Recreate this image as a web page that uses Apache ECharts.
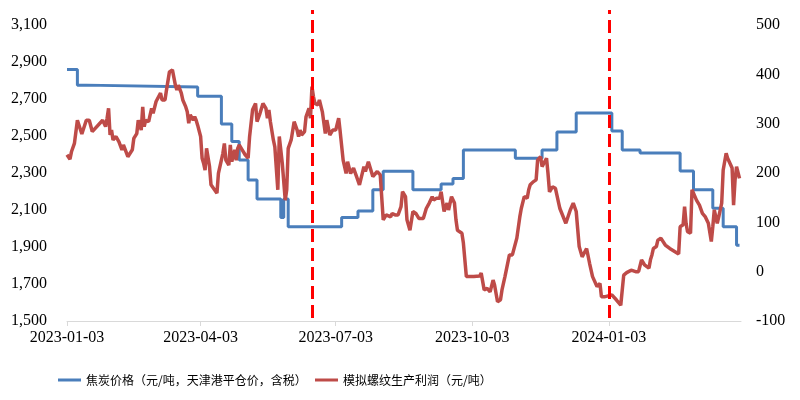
<!DOCTYPE html>
<html><head><meta charset="utf-8">
<script src="https://cdn.jsdelivr.net/npm/echarts@6/dist/echarts.min.js"></script>
<style>html,body{margin:0;padding:0;background:#fff}#c{width:800px;height:400px}</style>
</head><body><div id="c"></div>
<script>
// ---- data ----
const cokeName = '焦炭价格（元/吨，天津港平仓价，含税）';
const profitName = '模拟螺纹生产利润（元/吨）';

// coke price step changes (value holds from date until next date)
const cokeDates = ['2023-01-03','2023-01-10','2023-01-16','2023-04-01','2023-04-17','2023-04-24','2023-04-29','2023-05-05','2023-05-11','2023-05-27','2023-05-29','2023-06-01','2023-07-07','2023-07-18','2023-07-28','2023-08-04','2023-08-24','2023-09-12','2023-09-20','2023-09-27','2023-11-01','2023-11-19','2023-11-29','2023-12-12','2024-01-05','2024-01-12','2024-01-24','2024-02-20','2024-02-29','2024-03-13','2024-03-20','2024-03-29','2024-03-31'];
const cokePrices = [2860,2775,2765,2715,2565,2470,2370,2262,2160,2060,2160,2010,2060,2095,2210,2310,2210,2240,2270,2425,2380,2425,2522,2624,2527,2425,2408,2311,2210,2110,2010,1910,1910];

const profitDates = ['2023-01-03','2023-01-05','2023-01-06','2023-01-08','2023-01-10','2023-01-11','2023-01-13','2023-01-16','2023-01-18','2023-01-20','2023-01-21','2023-01-27','2023-01-29','2023-01-30','2023-01-31',
'2023-02-01','2023-02-02','2023-02-03','2023-02-05','2023-02-07','2023-02-08','2023-02-09','2023-02-10','2023-02-13','2023-02-16','2023-02-17','2023-02-19','2023-02-20','2023-02-22','2023-02-23','2023-02-24','2023-02-25','2023-02-27','2023-02-28',
'2023-03-01','2023-03-02','2023-03-04','2023-03-07','2023-03-08','2023-03-10','2023-03-11','2023-03-13','2023-03-15','2023-03-17','2023-03-18','2023-03-19','2023-03-21','2023-03-22','2023-03-24','2023-03-25','2023-03-26','2023-03-27','2023-03-29','2023-03-30','2023-03-31',
'2023-04-01','2023-04-03','2023-04-04','2023-04-05','2023-04-06','2023-04-07','2023-04-09','2023-04-10','2023-04-11','2023-04-14','2023-04-15','2023-04-18','2023-04-19','2023-04-20','2023-04-22','2023-04-23','2023-04-24','2023-04-26','2023-04-27','2023-04-28','2023-04-29',
'2023-05-01','2023-05-03','2023-05-05','2023-05-06','2023-05-08','2023-05-10','2023-05-11','2023-05-13','2023-05-15','2023-05-17','2023-05-18','2023-05-19','2023-05-20','2023-05-22','2023-05-23','2023-05-25','2023-05-26','2023-05-28','2023-05-30','2023-05-31',
'2023-06-01','2023-06-03','2023-06-05','2023-06-07','2023-06-08','2023-06-09','2023-06-10','2023-06-12','2023-06-13','2023-06-15','2023-06-16','2023-06-17','2023-06-18','2023-06-19','2023-06-21','2023-06-22','2023-06-24','2023-06-26','2023-06-27','2023-06-29',
'2023-07-01','2023-07-03','2023-07-05','2023-07-06','2023-07-08','2023-07-10','2023-07-11','2023-07-13','2023-07-15','2023-07-17','2023-07-19','2023-07-22','2023-07-23','2023-07-25','2023-07-26','2023-07-28','2023-07-31',
'2023-08-02','2023-08-04','2023-08-06','2023-08-09','2023-08-10','2023-08-12','2023-08-14','2023-08-16','2023-08-17','2023-08-19','2023-08-20','2023-08-22','2023-08-24','2023-08-26','2023-08-28','2023-08-29','2023-08-31',
'2023-09-02','2023-09-04','2023-09-06','2023-09-07','2023-09-09','2023-09-11','2023-09-12','2023-09-14','2023-09-16','2023-09-17','2023-09-19','2023-09-21','2023-09-22','2023-09-23','2023-09-26','2023-09-27','2023-09-29',
'2023-10-04','2023-10-08','2023-10-09','2023-10-11','2023-10-13','2023-10-15','2023-10-17','2023-10-18','2023-10-20','2023-10-22','2023-10-23','2023-10-25','2023-10-26','2023-10-28','2023-10-30',
'2023-11-02','2023-11-04','2023-11-05','2023-11-07','2023-11-09','2023-11-10','2023-11-11','2023-11-13','2023-11-15','2023-11-16','2023-11-18','2023-11-19','2023-11-22','2023-11-23','2023-11-24','2023-11-26','2023-11-28',
'2023-12-01','2023-12-02','2023-12-05','2023-12-08','2023-12-10','2023-12-12','2023-12-14','2023-12-16','2023-12-19','2023-12-21','2023-12-23','2023-12-26','2023-12-28','2023-12-29','2023-12-31',
'2024-01-05','2024-01-08','2024-01-11','2024-01-13','2024-01-15','2024-01-18','2024-01-19','2024-01-21','2024-01-23','2024-01-25','2024-01-27','2024-01-28','2024-01-30','2024-01-31',
'2024-02-01','2024-02-02','2024-02-04','2024-02-05','2024-02-07','2024-02-10','2024-02-13','2024-02-19','2024-02-20','2024-02-22','2024-02-23','2024-02-24','2024-02-25','2024-02-27','2024-02-28',
'2024-03-01','2024-03-02','2024-03-04','2024-03-06','2024-03-08','2024-03-10','2024-03-12','2024-03-13','2024-03-14','2024-03-16','2024-03-17','2024-03-19','2024-03-20','2024-03-22','2024-03-23','2024-03-26','2024-03-27','2024-03-28','2024-03-29','2024-03-31'];
const profitValues = [237,228,243,260,307,309,279,307,307,284,280,307,294,311,331,
277,287,267,274,263,267,247,257,233,247,270,280,307,287,334,294,307,304,318,
331,321,345,362,348,348,368,405,409,378,368,378,362,348,334,324,301,318,307,314,307,
297,274,230,220,206,250,213,176,179,159,199,240,260,226,216,257,223,247,226,250,257,
247,237,230,274,328,341,304,321,341,331,311,328,304,267,253,166,274,220,145,166,
250,267,304,287,274,287,277,284,314,331,311,375,355,341,338,348,324,280,307,277,
287,287,311,284,226,199,223,199,210,193,176,213,203,223,226,193,203,
196,105,115,111,118,115,115,132,162,152,105,84,122,118,108,105,108,
128,139,152,145,149,149,162,122,139,125,152,139,105,84,78,58,-10,
-10,-9,-3,-37,-34,-41,-17,-27,-61,-57,-37,-10,-7,34,34,
68,111,128,152,149,166,176,182,186,226,233,213,230,199,162,172,169,
128,125,98,125,139,122,51,30,47,17,-10,-30,-24,-51,-51,
-47,-57,-68,-7,-2,3,7,0,0,24,14,10,7,24,
34,47,51,64,68,54,47,36,91,95,132,98,81,78,166,
152,145,135,118,111,98,61,91,125,98,111,139,206,240,230,210,135,186,213,189];

const xLabelDates = ['2023-01-03','2023-04-03','2023-07-03','2023-10-03','2024-01-03'];
const eventDates = ['2023-06-17','2024-01-03'];
const xStart = '2023-01-03', xEnd = '2024-04-01';

// ---- helpers ----
function toTime(s){ const p = s.split('-'); return new Date(+p[0], +p[1]-1, +p[2]).getTime(); }
function pad(n){ return (n<10?'0':'') + n; }
function fmtDate(v){ const d = new Date(v); return d.getFullYear()+'-'+pad(d.getMonth()+1)+'-'+pad(d.getDate()); }

const serif = '"Liberation Serif", "Times New Roman", serif';
const cjk = '"Noto Sans CJK SC", sans-serif';

const chart = echarts.init(document.getElementById('c'), null, {renderer:'canvas'});
chart.setOption({
  animation: false,
  backgroundColor: '#fff',
  grid: [
    { left: 67, right: 59, top: 25, bottom: 79, containLabel: false },
    { left: 67, right: 59, top: 10, bottom: 82, containLabel: false }
  ],
  legend: [
    { data: [cokeName], left: 53, top: 369, icon: 'rect', itemWidth: 23, itemHeight: 3,
      textStyle: { fontSize: 12, fontFamily: cjk, color: '#000' } },
    { data: [profitName], left: 310, top: 369, icon: 'rect', itemWidth: 23, itemHeight: 3,
      textStyle: { fontSize: 12, fontFamily: cjk, color: '#000' } }
  ],
  xAxis: [{
    type: 'value', gridIndex: 0,
    min: toTime(xStart), max: toTime(xEnd),
    axisLine: { show: true, onZero: false, lineStyle: { color: '#d9d9d9', width: 1 } },
    axisTick: { show: true, customValues: xLabelDates.map(toTime), length: 5, lineStyle: { color: '#d9d9d9' } },
    axisLabel: { customValues: xLabelDates.map(toTime), formatter: v => fmtDate(v),
      fontFamily: serif, fontSize: 16, color: '#000', margin: 9 },
    splitLine: { show: false }
  }, {
    type: 'value', gridIndex: 1, show: false,
    min: toTime(xStart), max: toTime(xEnd)
  }],
  yAxis: [
    { type: 'value', gridIndex: 0, min: 1500, max: 3100, interval: 200, position: 'left',
      axisLine: { show: false }, axisTick: { show: false }, splitLine: { show: false },
      axisLabel: { formatter: v => v.toLocaleString('en-US'), fontFamily: serif, fontSize: 16, color: '#000', margin: 20 } },
    { type: 'value', gridIndex: 0, min: -100, max: 500, interval: 100, position: 'right',
      axisLine: { show: false }, axisTick: { show: false }, splitLine: { show: false },
      axisLabel: { fontFamily: serif, fontSize: 16, color: '#000', margin: 15 } },
    { type: 'value', gridIndex: 1, show: false, min: 0, max: 1 }
  ],
  series: [
    { name: cokeName, type: 'line', xAxisIndex: 0, yAxisIndex: 0, step: 'end', showSymbol: false, symbol: 'none',
      data: cokeDates.map((d,i) => [toTime(d), cokePrices[i]]),
      lineStyle: { color: '#4a7ebb', width: 3 }, itemStyle: { color: '#4a7ebb' }, z: 2 },
    { name: profitName, type: 'line', xAxisIndex: 0, yAxisIndex: 1, showSymbol: false, symbol: 'none',
      data: profitDates.map((d,i) => [toTime(d), profitValues[i]]),
      lineStyle: { color: '#be4b48', width: 3.5 }, itemStyle: { color: '#be4b48' }, z: 3 },
    { name: 'events', type: 'line', xAxisIndex: 1, yAxisIndex: 2, data: [], z: 5,
      markLine: { silent: true, symbol: ['none','none'], label: { show: false },
        lineStyle: { color: '#ff0000', width: 3, type: [13,6] },
        data: eventDates.map(d => ({ xAxis: toTime(d) })) } }
  ]
});
</script></body></html>
